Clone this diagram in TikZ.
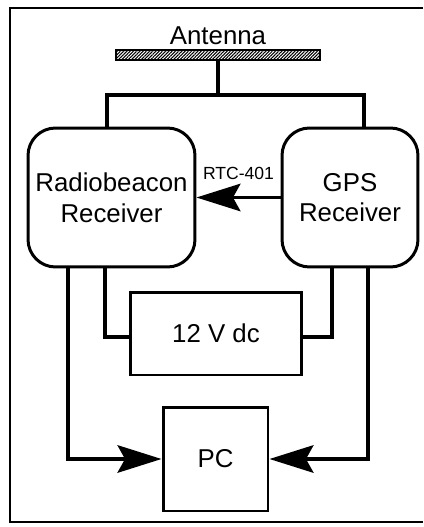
\documentclass[tikz,border=0pt]{standalone}
\usepackage{fontspec}
\setmainfont{Liberation Sans}
\usetikzlibrary{arrows.meta, positioning, calc, patterns.meta}
\tikzset{
    receiver/.style={rectangle, rounded corners=0.55cm, minimum height=2.78cm, text centered, align=center, draw=black, line width=1.7pt},
    block/.style   ={rectangle, text centered, align=center, draw=black, line width=1.7pt},
    antbar/.style  ={rectangle, inner sep=0pt, minimum width=4.08cm, minimum height=0.2cm, draw=black, line width=1.5pt, pattern={Lines[angle=45, distance=1.3pt, line width=0.6pt]}},
    wire/.style    ={line width=1.9pt},
    flowarrow/.style={-{Stealth[length=0.88cm, width=0.55cm, inset=0.15cm]}, line width=1.9pt},
}

\begin{document}
\begin{tikzpicture}[x=0.02cm, y=-0.02cm, font=\fontsize{14.7}{17.5}\selectfont]
    \useasboundingbox (0,0) rectangle (423,527);
    \draw[line width=1.1pt] (423,8) -- (10,8) -- (10,522) -- (423,522);
    \node[antbar] (ant) at (218,55) {};
    \node[anchor=base] (antlbl) at (218,45) {Antenna};
    \node[receiver, minimum width=3.34cm] (radio) at (111.5,197.5) {Radiobeacon\\Receiver};
    \node[receiver, minimum width=2.72cm] (gps) at (350,197.5) {GPS\\Receiver};
    \node[block, minimum width=3.44cm, minimum height=1.66cm] (dc) at (216,333.5) {12 V dc};
    \node[block, minimum width=2.1cm, minimum height=2.08cm] (pc) at (215.5,459) {PC};
    \coordinate (split) at (218,95);
    \draw[wire] (ant.south) -- (split);
    \draw[wire] ($(radio.north)+(-4.5,0)$) |- (split) -| ($(gps.north)+(14,0)$);
    \draw[flowarrow] (gps.west) -- node[above=0.2cm, font=\fontsize{10}{12}\selectfont] (rtc) {RTC-401} (radio.east);
    \draw[wire] ($(radio.south)+(-6.5,0)$) |- ($(dc.west)+(0,3.5)$);
    \draw[wire] ($(gps.south)+(-18,0)$) |- ($(dc.east)+(0,3.5)$);
    \draw[flowarrow] ($(radio.south)+(-43.5,0)$) |- (pc.west);
    \draw[flowarrow] ($(gps.south)+(18,0)$) |- (pc.east);
\end{tikzpicture}
\end{document}
